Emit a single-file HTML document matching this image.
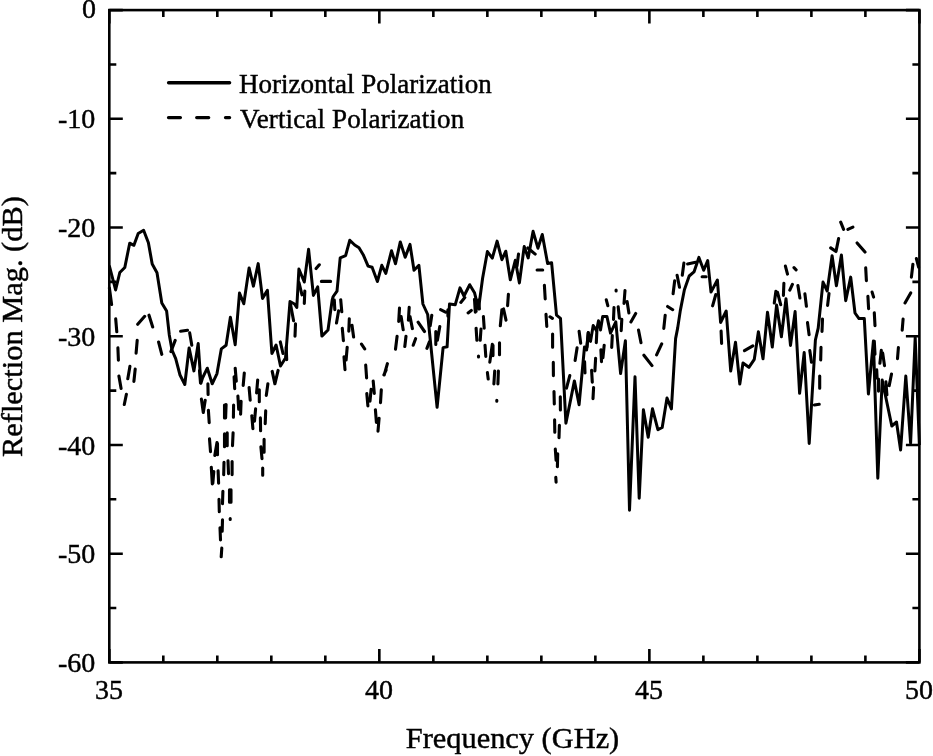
<!DOCTYPE html>
<html><head><meta charset="utf-8"><style>
html,body{margin:0;padding:0;background:#fff;}
.yl,.xl,.xt,.yt,.lg{will-change:transform;-webkit-text-stroke:0.45px #000;}
body{width:933px;height:756px;position:relative;overflow:hidden;font-family:"Liberation Serif",serif;color:#000;}
svg{position:absolute;left:0;top:0;}
.yl{position:absolute;right:837.5px;font-size:28px;line-height:31px;text-align:right;white-space:nowrap;}
.xl{position:absolute;top:674px;width:60px;font-size:28px;line-height:31px;text-align:center;}
.xt{position:absolute;left:46px;width:933px;top:721px;font-size:30.4px;line-height:34px;text-align:center;white-space:nowrap;}
.yt{position:absolute;left:-118px;top:310px;width:260px;font-size:30.4px;line-height:34px;text-align:center;transform:rotate(-90deg);white-space:nowrap;}
.lg{position:absolute;left:239px;font-size:27px;line-height:32px;white-space:nowrap;}
</style></head><body>
<svg width="933" height="756" viewBox="0 0 933 756">
<rect x="109.3" y="10.1" width="810.10" height="652.30" fill="none" stroke="#000" stroke-width="2.6"/>
<path d="M109.30 10.10v13.5M109.30 662.40v-13.5M163.31 10.10v7M163.31 662.40v-7M217.31 10.10v7M217.31 662.40v-7M271.32 10.10v7M271.32 662.40v-7M325.33 10.10v7M325.33 662.40v-7M379.33 10.10v13.5M379.33 662.40v-13.5M433.34 10.10v7M433.34 662.40v-7M487.35 10.10v7M487.35 662.40v-7M541.35 10.10v7M541.35 662.40v-7M595.36 10.10v7M595.36 662.40v-7M649.37 10.10v13.5M649.37 662.40v-13.5M703.37 10.10v7M703.37 662.40v-7M757.38 10.10v7M757.38 662.40v-7M811.39 10.10v7M811.39 662.40v-7M865.39 10.10v7M865.39 662.40v-7M919.40 10.10v13.5M919.40 662.40v-13.5M109.30 10.10h13.5M919.40 10.10h-13.5M109.30 64.46h7M919.40 64.46h-7M109.30 118.82h13.5M919.40 118.82h-13.5M109.30 173.17h7M919.40 173.17h-7M109.30 227.53h13.5M919.40 227.53h-13.5M109.30 281.89h7M919.40 281.89h-7M109.30 336.25h13.5M919.40 336.25h-13.5M109.30 390.61h7M919.40 390.61h-7M109.30 444.97h13.5M919.40 444.97h-13.5M109.30 499.32h7M919.40 499.32h-7M109.30 553.68h13.5M919.40 553.68h-13.5M109.30 608.04h7M919.40 608.04h-7M109.30 662.40h13.5M919.40 662.40h-13.5" stroke="#000" stroke-width="2.6" fill="none"/>
<path d="M109.3 265.5 L115.6 290.0 L119.8 272.5 L124.8 267.5 L129.7 243.2 L133.9 245.3 L138.2 233.5 L143.6 230.3 L148.4 242.7 L152.2 264.1 L157.0 272.7 L161.8 302.9 L166.6 310.9 L169.3 335.0 L172.0 350.0 L175.7 358.6 L180.0 375.0 L184.8 384.5 L189.1 347.9 L193.9 370.9 L198.2 343.6 L200.9 383.2 L202.5 378.0 L207.3 368.2 L212.2 383.8 L217.0 373.6 L221.3 348.9 L226.1 345.2 L230.4 317.2 L235.2 344.7 L239.5 293.0 L243.8 303.8 L249.1 267.9 L253.4 286.1 L258.2 263.6 L262.5 298.4 L267.4 290.4 L271.9 353.5 L276.1 345.0 L280.5 366.0 L285.5 358.0 L290.0 301.5 L294.5 304.0 L296.8 307.5 L298.9 269.1 L304.3 282.0 L308.6 249.3 L313.4 295.4 L317.7 286.8 L321.9 336.1 L328.0 330.0 L332.2 300.0 L333.2 296.5 L337.0 291.1 L340.2 257.9 L345.6 255.7 L349.8 240.2 L354.7 245.0 L359.0 247.7 L363.2 254.7 L368.1 266.1 L372.1 267.3 L377.4 281.5 L381.8 265.3 L385.8 273.4 L391.5 250.8 L395.5 263.7 L400.3 241.9 L405.2 257.3 L410.0 244.4 L414.0 270.2 L418.9 265.3 L422.9 304.0 L427.7 314.5 L437.1 407.3 L443.1 347.6 L447.1 346.8 L449.5 304.0 L455.2 304.8 L460.0 287.9 L464.0 296.0 L469.7 284.7 L474.5 292.7 L478.5 308.9 L482.6 278.2 L487.4 251.6 L492.3 258.1 L497.1 241.1 L501.9 259.7 L505.8 251.2 L510.3 279.8 L515.3 260.3 L519.4 282.9 L524.2 246.6 L528.2 257.9 L533.1 231.3 L537.9 248.2 L542.3 234.5 L547.6 263.5 L551.6 262.7 L556.5 315.2 L560.5 318.4 L565.9 423.2 L574.4 380.9 L579.1 404.7 L584.5 347.0 L586.6 350.0 L588.2 332.7 L590.5 341.4 L593.2 325.5 L596.5 330.8 L598.5 320.8 L600.5 330.0 L602.7 316.4 L606.9 316.4 L610.5 333.1 L615.8 321.8 L620.6 373.6 L625.4 340.8 L629.5 510.3 L635.0 376.7 L639.2 498.2 L643.4 409.8 L648.2 437.2 L652.5 408.8 L657.9 429.7 L662.2 427.5 L667.0 398.0 L671.4 408.9 L675.6 338.6 L677.7 327.9 L680.3 310.6 L684.4 289.7 L689.2 276.0 L694.0 271.9 L698.9 257.4 L703.7 270.3 L707.7 260.6 L711.0 292.1 L717.4 280.0 L720.6 322.5 L726.2 311.0 L730.7 371.1 L735.5 342.2 L739.8 384.0 L743.0 363.0 L748.9 367.3 L754.3 359.3 L758.4 331.7 L763.0 358.8 L767.5 312.2 L772.3 347.0 L776.6 305.0 L781.4 336.8 L786.0 298.8 L790.5 345.4 L795.1 311.6 L799.6 393.3 L804.2 352.5 L809.2 443.4 L815.4 340.0 L818.2 328.2 L823.0 282.1 L827.2 291.0 L832.1 255.7 L836.4 285.7 L841.4 255.0 L845.7 300.7 L850.7 277.1 L855.0 313.0 L859.0 318.6 L864.3 318.6 L868.4 394.0 L873.4 341.1 L877.8 478.3 L882.2 380.0 L891.8 426.0 L896.5 422.0 L900.6 450.0 L905.8 376.0 L910.6 443.2 L915.2 337.6 L919.4 445.0" stroke="#000" stroke-width="3" fill="none" stroke-linejoin="round"/>
<path d="M109.4 288.0 L111.6 304.5 M115.7 318.9 L116.8 331.8 M117.9 347.9 L118.4 360.2 M118.9 376.1 L121.1 388.4 M124.3 404.5 L126.4 394.3 M127.8 378.8 L129.9 366.4 M133.9 381.4 L135.2 369.1 M136.1 353.2 L137.2 340.4 M137.7 324.3 L144.7 316.3 M149.0 315.2 L152.7 327.0 M158.6 342.0 L161.8 354.3 M170.9 351.6 L175.2 340.4 M180.6 331.3 L187.5 330.2 M189.7 332.9 L191.8 345.2 M207.9 383.8 L208.1 394.5 M201.4 399.1 L203.3 412.5 L205.2 400.2 M235.2 368.2 L236.3 381.1 M234.1 376.8 L234.7 388.6 M244.3 373.0 L243.2 385.4 M237.9 396.1 L238.7 409.3 M249.1 387.5 L250.2 400.2 M257.7 380.0 L256.6 392.9 M259.3 389.7 L259.3 401.8 M267.9 383.8 L266.3 395.4 M272.2 371.4 L274.9 383.8 L278.1 370.4 M208.4 410.4 L209.2 422.7 M226.1 404.5 L225.6 417.9 M224.5 405.0 L224.5 418.0 M233.6 405.0 L233.4 417.3 M241.1 401.3 L240.6 414.1 M255.6 408.8 L254.5 421.1 M251.8 415.7 L252.9 428.6 M260.4 417.9 L260.6 430.7 M265.7 410.9 L265.2 423.8 M209.5 438.8 L210.5 451.6 M217.0 442.5 L214.8 455.4 M217.5 443.6 L217.5 454.8 M224.5 433.9 L224.5 446.8 M227.2 432.9 L227.2 445.7 M233.1 432.9 L232.5 445.7 M264.1 439.3 L264.1 452.2 M260.9 446.8 L262.0 458.6 M211.3 467.3 L212.3 484.0 M213.8 471.6 L212.8 483.3 M218.1 470.9 L218.6 483.3 M224.0 462.2 L223.7 474.6 M228.0 460.7 L228.5 473.8 M232.1 461.5 L232.1 474.6 M262.7 468.0 L262.7 475.3 M222.9 491.3 L222.5 503.7 M219.0 499.3 L219.3 511.7 M229.5 489.8 L229.5 502.2 M231.0 489.8 L231.0 502.2 M230.2 518.5 L230.2 519.5 M222.5 519.7 L222.2 531.3 M220.0 527.7 L220.5 540.0 M221.8 548.0 L221.2 556.8 M298.9 282.5 L302.0 294.8 M304.8 291.1 L304.3 303.4 M316.1 268.6 L319.3 264.8 M321.4 281.4 L330.6 281.4 M340.7 299.7 L341.8 311.8 M334.3 300.0 L334.8 309.6 M338.6 310.7 L336.5 323.0 M342.3 328.4 L343.4 340.7 M349.3 318.8 L348.8 331.1 M352.0 325.2 L353.6 337.0 M347.2 347.2 L346.1 360.0 M344.0 356.8 L345.0 369.7 M361.5 344.1 L364.7 348.9 M365.7 365.0 L366.6 377.9 M373.2 381.1 L374.3 393.4 M295.5 323.8 L295.0 336.1 M280.3 341.9 L283.0 353.5 M286.2 347.0 L286.7 359.8 M290.4 303.8 L293.6 320.7 M371.1 389.3 L370.0 401.1 M366.8 393.6 L367.9 405.9 M381.3 389.8 L380.5 402.7 M375.4 409.7 L376.4 422.5 M379.1 418.2 L378.0 431.1 M386.1 370.0 L383.9 374.8 M387.4 363.7 L384.2 375.0 M399.5 308.1 L398.7 321.5 M401.1 316.5 L403.2 329.8 M409.2 307.3 L408.4 320.2 M410.0 316.5 L412.4 328.6 M418.1 322.2 L424.5 331.5 M431.8 315.3 L430.2 325.8 M397.1 336.3 L395.5 349.2 M406.0 336.3 L404.8 346.5 M415.6 338.7 L413.2 345.2 M429.4 341.9 L426.9 348.4 M435.8 331.5 L435.8 344.4 M439.8 326.6 L437.4 340.3 M440.6 309.7 L445.5 312.1 M447.9 309.7 L447.9 316.1 M460.8 302.4 L464.8 297.6 M468.1 312.9 L471.3 310.5 M474.5 299.2 L475.3 312.1 M474.5 300.0 L476.1 311.3 M478.5 300.0 L479.4 308.9 M483.4 316.5 L484.2 328.2 M476.1 328.2 L476.9 340.3 M481.0 329.0 L480.2 340.3 M485.0 345.2 L485.8 356.5 M492.3 344.4 L489.8 362.1 M493.0 345.2 L493.0 355.6 M499.5 342.7 L499.5 354.8 M478.5 356.0 L478.5 357.0 M487.4 372.6 L488.2 379.0 M494.7 371.0 L493.9 383.9 M498.4 371.0 L497.9 383.9 M496.8 400.3 L496.8 401.3 M501.9 309.7 L500.3 325.8 M503.5 308.9 L506.0 320.2 M508.4 294.4 L507.6 305.6 M537.1 270.0 L542.7 270.0 M544.4 285.3 L545.2 299.0 M546.0 314.4 L546.8 326.5 M550.0 316.8 L552.4 318.4 M552.6 334.0 L552.6 347.2 M553.3 362.4 L553.4 375.6 M554.0 391.5 L554.3 404.0 M554.6 419.9 L554.8 432.2 M559.4 425.4 L559.0 437.7 M555.3 449.0 L556.1 460.3 M557.7 453.9 L557.4 466.8 M555.8 477.3 L556.1 482.1 M560.3 396.7 L560.4 410.0 M569.8 375.6 L566.5 388.1 M577.1 347.8 L575.1 360.4 M579.1 331.3 L580.7 343.2 M584.6 361.7 L585.0 373.0 M588.3 332.6 L587.0 347.2 M595.6 358.4 L594.9 371.0 M591.6 370.3 L592.3 382.2 M593.6 387.5 L593.0 398.7 M596.9 330.0 L596.3 342.6 M600.9 349.8 L601.5 361.7 M604.2 345.2 L602.9 357.8 M606.3 299.8 L607.8 305.7 M614.0 307.5 L613.5 319.4 M618.2 306.9 L619.4 318.2 M621.8 319.4 L621.2 330.7 M625.0 290.5 L624.0 303.5 M616.1 290.0 L616.1 291.0 M627.1 301.5 L628.9 312.9 M635.7 313.5 L630.9 321.9 M638.5 330.0 L641.0 342.7 M612.3 335.5 L611.7 347.4 M643.9 355.2 L652.0 365.6 M656.6 354.8 L661.7 343.9 M663.8 328.4 L665.2 315.2 M667.6 306.5 L672.7 309.7 M674.7 280.8 L673.1 293.7 M677.1 275.2 L679.5 287.3 M683.9 263.1 L682.3 275.2 M687.6 263.9 L695.6 262.3 M702.1 276.8 L706.1 276.8 M715.8 294.5 L712.6 305.8 M721.1 331.1 L721.6 343.4 M744.5 350.7 L752.8 345.9 M774.3 303.0 L775.9 291.3 M777.5 292.3 L780.7 304.7 M783.4 295.5 L783.9 283.2 M785.4 266.1 L787.5 274.1 M794.0 267.7 L796.1 269.8 M789.8 290.2 L792.4 284.3 M797.9 285.6 L799.9 298.0 M804.9 293.9 L806.4 306.3 M807.5 322.6 L809.1 334.7 M809.8 350.6 L811.5 362.3 M814.4 405.0 L819.2 404.3 M819.7 376.0 L819.7 388.3 M821.0 347.4 L820.7 360.0 M822.5 319.1 L822.0 331.4 M829.0 293.5 L827.6 305.4 M830.7 247.9 L836.0 251.5 L838.6 238.6 M840.7 222.1 L843.6 229.3 M847.9 229.3 L852.9 227.1 M857.1 242.9 L865.0 252.1 M865.7 267.9 L866.4 280.7 M867.9 296.4 L868.6 308.6 M872.1 292.1 L873.6 297.1 M874.3 312.9 L875.0 325.7 M874.3 341.4 L875.0 354.3 M881.3 350.4 L879.9 363.3 M882.7 353.1 L884.5 365.6 M891.5 374.0 L889.2 385.6 M876.7 369.8 L877.1 378.1 M878.5 379.1 L878.5 391.1 M885.9 381.9 L886.9 394.8 M898.4 347.5 L897.5 358.7 M903.1 319.0 L902.2 330.2 M910.7 292.9 L905.0 302.9 M912.9 264.3 L911.4 277.1 M916.4 258.6 L918.6 267.1 M518.5 254.1 L517.0 266.0 M527.8 248.0 L535.2 254.1 M199.5 370.5 L200.5 383.0" stroke="#000" stroke-width="3.1" fill="none" stroke-linecap="round" stroke-linejoin="round"/>
<path d="M168.6 82.8H229.6" stroke="#000" stroke-width="3.4" stroke-linecap="round"/>
<path d="M168.5 117.6H180.4M196.7 117.6H208.7M225.5 117.6H229.6" stroke="#000" stroke-width="3.3" stroke-linecap="round"/>
</svg>
<div class="yl" style="top:-6.7px">0</div><div class="yl" style="top:103.3px">-10</div><div class="yl" style="top:212.0px">-20</div><div class="yl" style="top:320.8px">-30</div><div class="yl" style="top:429.5px">-40</div><div class="yl" style="top:538.2px">-50</div><div class="yl" style="top:646.9px">-60</div>
<div class="xl" style="left:79.3px">35</div><div class="xl" style="left:349.3px">40</div><div class="xl" style="left:619.4px">45</div><div class="xl" style="left:889.4px">50</div>
<div class="xt">Frequency (GHz)</div>
<div class="yt">Reflection Mag. (dB)</div>
<div class="lg" style="top:68px">Horizontal Polarization</div>
<div class="lg" style="top:103px;left:240px;letter-spacing:0.15px">Vertical Polarization</div>
</body></html>
